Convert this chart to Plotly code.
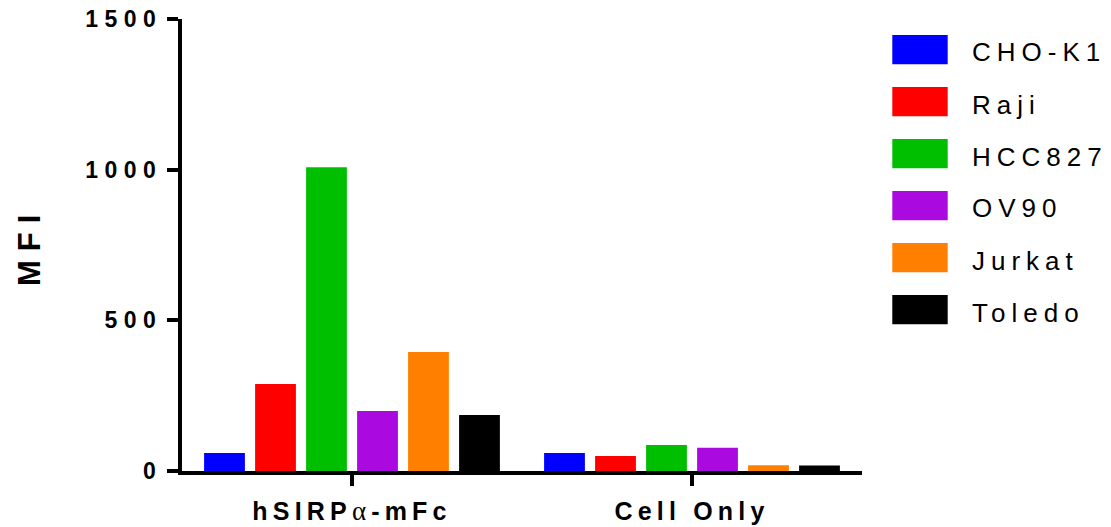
import plotly.graph_objects as go

# Data
categories = ["hSIRPα-mFc", "Cell Only"]
category_parts = [["hSIRP", "α", "-mFc"], ["Cell Only"]]
series_names = ["CHO-K1", "Raji", "HCC827", "OV90", "Jurkat", "Toledo"]
series_values = [
    [60, 60],     # CHO-K1
    [289, 50],    # Raji
    [1008, 86],   # HCC827
    [199, 77],    # OV90
    [395, 19],    # Jurkat
    [186, 18],    # Toledo
]
series_colors = ["#0000FF", "#FF0000", "#00BF00", "#AA0ADF", "#FF8000", "#000000"]
y_ticks = [0, 500, 1000, 1500]

FONT = "Liberation Sans, Arial, sans-serif"
W, H = 1111, 527
L, R, T, B = 182, 249, 19, 56
PW, PH = W - L - R, H - T - B


def spaced(text, px, bold=False, extra=""):
    weight = "bold" if bold else "normal"
    return f'<span style="letter-spacing:{px}px;font-weight:{weight}{extra}">{text}</span>'


def category_label(parts):
    out = []
    for p in parts:
        if p == "α":
            out.append(spaced(p, 5, extra=";font-family:Liberation Serif;font-size:27px"))
        else:
            out.append(spaced(p, 5.2, bold=True))
    return "".join(out)


def px_x(px):
    return (px - L) / PW


def px_y(py):
    return (H - B - py) / PH


fig = go.Figure()
for name, vals, col in zip(series_names, series_values, series_colors):
    fig.add_trace(go.Bar(
        x=categories, y=vals, name=name,
        marker=dict(color=col, line=dict(width=0)),
        showlegend=False,
    ))

# Custom legend: large swatches with spaced labels
shapes, annotations = [], []
for i, (name, col) in enumerate(zip(series_names, series_colors)):
    top = 35 + 52 * i
    bot = top + 29.3
    shapes.append(dict(
        type="rect", xref="paper", yref="paper",
        x0=px_x(892.3), x1=px_x(947.7), y0=px_y(bot), y1=px_y(top),
        fillcolor=col, line=dict(width=0),
    ))
    annotations.append(dict(
        xref="paper", yref="paper", x=px_x(970), y=px_y(top + 17.5),
        xanchor="left", yanchor="middle", showarrow=False,
        text=spaced(name, 6), font=dict(family=FONT, size=26, color="black"),
    ))

annotations.append(dict(
    xref="paper", yref="paper", x=px_x(29), y=px_y(246),
    xanchor="center", yanchor="middle", showarrow=False, textangle=-90,
    text=spaced("MFI", 9, bold=True), font=dict(family=FONT, size=31, color="black"),
))

fig.update_layout(
    width=W, height=H,
    margin=dict(l=L, r=R, t=T, b=B, pad=0, autoexpand=False),
    paper_bgcolor="white", plot_bgcolor="white",
    barmode="group", bargap=0.1, bargroupgap=0.2,
    shapes=shapes, annotations=annotations,
    font=dict(family=FONT, color="black"),
)
fig.update_xaxes(
    range=[-0.5, 1.5], automargin=False,
    tickvals=categories,
    ticktext=[category_label(p) for p in category_parts],
    tickfont=dict(family=FONT, size=25, color="black"),
    ticklabelstandoff=4,
    showline=True, linecolor="black", linewidth=4,
    ticks="outside", ticklen=11, tickwidth=4, tickcolor="black",
    showgrid=False, zeroline=False,
)
fig.update_yaxes(
    range=[0, 1500], automargin=False,
    tickvals=y_ticks,
    ticktext=[spaced(str(v), 6.5, bold=True) for v in y_ticks],
    tickfont=dict(family=FONT, size=23, color="black"),
    showline=True, linecolor="black", linewidth=4,
    ticks="outside", ticklen=11, tickwidth=4, tickcolor="black",
    showgrid=False, zeroline=False,
)

fig.write_html("out.html")
